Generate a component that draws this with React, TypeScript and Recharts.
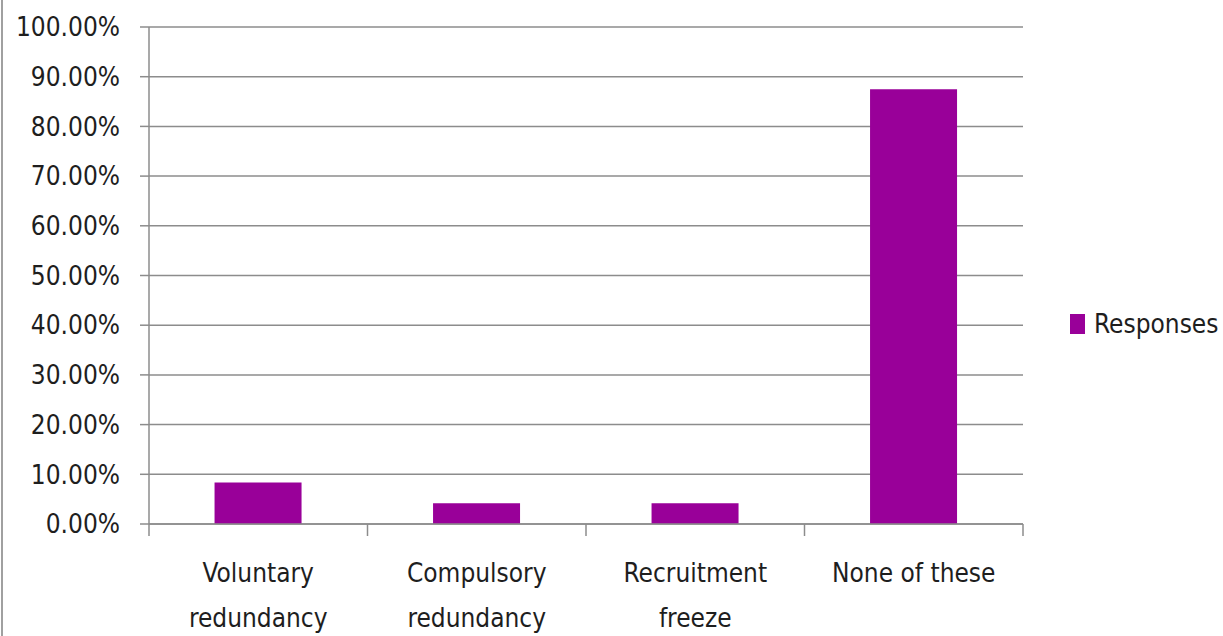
import React from 'react';
import { BarChart, Bar, XAxis, YAxis, CartesianGrid, Legend } from 'recharts';

// Share of respondents choosing each staffing measure
const categories = ['Voluntary redundancy', 'Compulsory redundancy', 'Recruitment freeze', 'None of these'];
const responses = [8.33, 4.17, 4.17, 87.5];
const yTicks = [0, 10, 20, 30, 40, 50, 60, 70, 80, 90, 100];
const seriesName = 'Responses';

const data = categories.map((name, i) => ({ name, value: responses[i] }));

const FONT = '"DejaVu Sans Condensed", "Liberation Sans Narrow", sans-serif';
const FONT_SIZE = 26;
const TEXT = '#1e1e1e';
const LINE = '#8c8c8c';
const BAR = '#990099';
const TICK_LEN = 12;

// Long category names wrap onto two lines, the last word going below
const wrapLabel = (label: string): string[] => {
  const words = label.split(' ');
  if (label.length <= 14 || words.length < 2) return [label];
  return [words.slice(0, -1).join(' '), words[words.length - 1]];
};

// Category label plus tick marks on the band boundaries (left edge, and right edge for the last band)
const CategoryTick = (props: any) => {
  const { x, y, payload, index, visibleTicksCount } = props;
  const half = payload && typeof payload.offset === 'number' ? payload.offset : 0;
  const lines = wrapLabel(String(payload.value));
  const edges = [x - half];
  if (index === visibleTicksCount - 1) edges.push(x + half);
  return (
    <g>
      {half > 0 &&
        edges.map((ex, i) => (
          <line key={i} x1={ex} x2={ex} y1={y - TICK_LEN} y2={y} stroke={LINE} strokeWidth={1.5} />
        ))}
      <text x={x} y={y} textAnchor="middle" fill={TEXT} fontFamily={FONT} fontSize={FONT_SIZE}>
        {lines.map((l, i) => (
          <tspan key={i} x={x} dy={i === 0 ? 46 : 45}>
            {l}
          </tspan>
        ))}
      </text>
    </g>
  );
};

const LegendContent = () => (
  <div style={{ display: 'flex', alignItems: 'center', paddingLeft: 47, height: 30, fontFamily: FONT, fontSize: FONT_SIZE, color: TEXT, whiteSpace: 'nowrap' }}>
    <svg width={15} height={20} style={{ marginRight: 9, flexShrink: 0 }}>
      <rect width={15} height={20} fill={BAR} />
    </svg>
    <span>{seriesName}</span>
  </div>
);

export default function App() {
  return (
    <div style={{ position: 'absolute', left: 0, top: 0, width: 1223, height: 636, background: '#fff' }}>
      <div style={{ position: 'absolute', left: 1, top: 0, width: 0, height: 636, borderLeft: '2px solid #a0a0a0' }} />
      <BarChart
        width={1223}
        height={636}
        data={data}
        margin={{ top: 27, right: 0, left: 0, bottom: 0 }}
        barCategoryGap="30%"
      >
        <CartesianGrid vertical={false} stroke={LINE} strokeWidth={1.5} />
        <XAxis
          dataKey="name"
          height={112}
          axisLine={{ stroke: LINE, strokeWidth: 1.5 }}
          tickLine={false}
          tickSize={TICK_LEN}
          tickMargin={0}
          tick={<CategoryTick />}
          interval={0}
        />
        <YAxis
          width={149}
          domain={[0, 100]}
          ticks={yTicks}
          tickFormatter={(v: number) => `${v.toFixed(2)}%`}
          axisLine={{ stroke: LINE, strokeWidth: 1.5 }}
          tickLine={{ stroke: LINE, strokeWidth: 1.5 }}
          tickSize={9}
          tickMargin={20}
          tick={{ fill: TEXT, fontFamily: FONT, fontSize: FONT_SIZE }}
        />
        <Legend
          layout="vertical"
          align="right"
          verticalAlign="middle"
          width={200}
          content={<LegendContent />}
          wrapperStyle={{ right: 0, top: 309 }}
        />
        <Bar dataKey="value" name={seriesName} fill={BAR} isAnimationActive={false} />
      </BarChart>
    </div>
  );
}
